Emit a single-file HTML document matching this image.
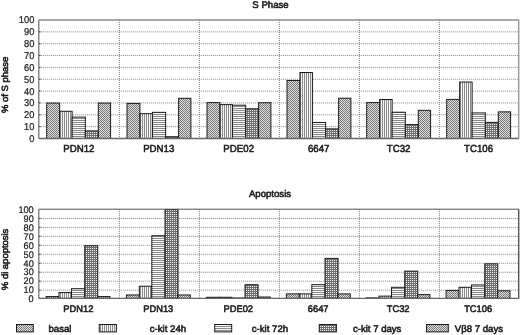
<!DOCTYPE html>
<html><head><meta charset="utf-8"><style>
html,body{margin:0;padding:0;background:#fff;}
svg{display:block;filter:grayscale(1);}
text{font-family:"Liberation Sans",sans-serif;fill:#1a1a1a;text-rendering:geometricPrecision;}
</style></head><body>
<svg width="520" height="335" viewBox="0 0 520 335">
<defs>
<pattern id="pA" width="2" height="2" patternUnits="userSpaceOnUse"><rect width="2" height="2" fill="#e2e2e2"/><rect width="1" height="1" fill="#767676"/><rect x="1" y="1" width="1" height="1" fill="#767676"/></pattern>
<pattern id="pV" width="2" height="2" patternUnits="userSpaceOnUse"><rect width="2" height="2" fill="#f8f8f8"/><rect width="1" height="2" fill="#8a8a8a"/></pattern>
<pattern id="pH" width="2" height="2" patternUnits="userSpaceOnUse"><rect width="2" height="2" fill="#f8f8f8"/><rect width="2" height="1" fill="#8a8a8a"/></pattern>
<pattern id="pG" width="2" height="2" patternUnits="userSpaceOnUse"><rect width="2" height="2" fill="#6e6e6e"/><rect width="1" height="1" fill="#f4f4f4"/></pattern>
</defs>
<rect width="520" height="335" fill="#fff"/>

<line x1="38.8" y1="126.65" x2="519.0" y2="126.65" stroke="#858585" stroke-width="1" stroke-dasharray="1 1"/>
<line x1="38.8" y1="114.80" x2="519.0" y2="114.80" stroke="#858585" stroke-width="1" stroke-dasharray="1 1"/>
<line x1="38.8" y1="102.95" x2="519.0" y2="102.95" stroke="#858585" stroke-width="1" stroke-dasharray="1 1"/>
<line x1="38.8" y1="91.10" x2="519.0" y2="91.10" stroke="#858585" stroke-width="1" stroke-dasharray="1 1"/>
<line x1="38.8" y1="79.25" x2="519.0" y2="79.25" stroke="#858585" stroke-width="1" stroke-dasharray="1 1"/>
<line x1="38.8" y1="67.40" x2="519.0" y2="67.40" stroke="#858585" stroke-width="1" stroke-dasharray="1 1"/>
<line x1="38.8" y1="55.55" x2="519.0" y2="55.55" stroke="#858585" stroke-width="1" stroke-dasharray="1 1"/>
<line x1="38.8" y1="43.70" x2="519.0" y2="43.70" stroke="#858585" stroke-width="1" stroke-dasharray="1 1"/>
<line x1="38.8" y1="31.85" x2="519.0" y2="31.85" stroke="#858585" stroke-width="1" stroke-dasharray="1 1"/>
<line x1="119.4" y1="20.0" x2="119.4" y2="138.5" stroke="#7a7a7a" stroke-width="1" stroke-dasharray="1 1"/>
<line x1="199.4" y1="20.0" x2="199.4" y2="138.5" stroke="#7a7a7a" stroke-width="1" stroke-dasharray="1 1"/>
<line x1="279.4" y1="20.0" x2="279.4" y2="138.5" stroke="#7a7a7a" stroke-width="1" stroke-dasharray="1 1"/>
<line x1="359.4" y1="20.0" x2="359.4" y2="138.5" stroke="#7a7a7a" stroke-width="1" stroke-dasharray="1 1"/>
<line x1="439.4" y1="20.0" x2="439.4" y2="138.5" stroke="#7a7a7a" stroke-width="1" stroke-dasharray="1 1"/>
<rect x="46.70" y="103.07" width="12.93" height="35.43" fill="url(#pA)" stroke="#1a1a1a" stroke-width="1"/>
<rect x="59.63" y="111.28" width="12.49" height="27.22" fill="url(#pV)" stroke="#1a1a1a" stroke-width="1"/>
<rect x="72.12" y="117.10" width="13.21" height="21.40" fill="url(#pH)" stroke="#1a1a1a" stroke-width="1"/>
<rect x="85.33" y="130.90" width="12.99" height="7.60" fill="url(#pG)" stroke="#1a1a1a" stroke-width="1"/>
<rect x="98.32" y="103.07" width="12.26" height="35.43" fill="url(#pA)" stroke="#1a1a1a" stroke-width="1"/>
<rect x="127.00" y="103.43" width="12.93" height="35.07" fill="url(#pA)" stroke="#1a1a1a" stroke-width="1"/>
<rect x="139.93" y="113.66" width="12.49" height="24.84" fill="url(#pV)" stroke="#1a1a1a" stroke-width="1"/>
<rect x="152.42" y="112.35" width="13.21" height="26.15" fill="url(#pH)" stroke="#1a1a1a" stroke-width="1"/>
<rect x="165.63" y="136.72" width="12.99" height="1.78" fill="url(#pG)" stroke="#1a1a1a" stroke-width="1"/>
<rect x="178.62" y="98.32" width="12.26" height="40.18" fill="url(#pA)" stroke="#1a1a1a" stroke-width="1"/>
<rect x="207.00" y="102.60" width="12.93" height="35.90" fill="url(#pA)" stroke="#1a1a1a" stroke-width="1"/>
<rect x="219.93" y="104.62" width="12.49" height="33.88" fill="url(#pV)" stroke="#1a1a1a" stroke-width="1"/>
<rect x="232.42" y="105.21" width="13.21" height="33.29" fill="url(#pH)" stroke="#1a1a1a" stroke-width="1"/>
<rect x="245.63" y="108.78" width="12.99" height="29.72" fill="url(#pG)" stroke="#1a1a1a" stroke-width="1"/>
<rect x="258.62" y="102.72" width="12.26" height="35.78" fill="url(#pA)" stroke="#1a1a1a" stroke-width="1"/>
<rect x="287.00" y="80.48" width="12.93" height="58.02" fill="url(#pA)" stroke="#1a1a1a" stroke-width="1"/>
<rect x="299.93" y="72.52" width="12.49" height="65.98" fill="url(#pV)" stroke="#1a1a1a" stroke-width="1"/>
<rect x="312.42" y="122.45" width="13.21" height="16.05" fill="url(#pH)" stroke="#1a1a1a" stroke-width="1"/>
<rect x="325.63" y="128.87" width="12.99" height="9.63" fill="url(#pG)" stroke="#1a1a1a" stroke-width="1"/>
<rect x="338.62" y="98.20" width="12.26" height="40.30" fill="url(#pA)" stroke="#1a1a1a" stroke-width="1"/>
<rect x="366.70" y="102.60" width="12.93" height="35.90" fill="url(#pA)" stroke="#1a1a1a" stroke-width="1"/>
<rect x="379.63" y="99.51" width="12.49" height="38.99" fill="url(#pV)" stroke="#1a1a1a" stroke-width="1"/>
<rect x="392.12" y="112.23" width="13.21" height="26.27" fill="url(#pH)" stroke="#1a1a1a" stroke-width="1"/>
<rect x="405.33" y="124.59" width="12.99" height="13.91" fill="url(#pG)" stroke="#1a1a1a" stroke-width="1"/>
<rect x="418.32" y="110.33" width="12.26" height="28.17" fill="url(#pA)" stroke="#1a1a1a" stroke-width="1"/>
<rect x="446.70" y="99.39" width="12.93" height="39.11" fill="url(#pA)" stroke="#1a1a1a" stroke-width="1"/>
<rect x="459.63" y="82.03" width="12.49" height="56.47" fill="url(#pV)" stroke="#1a1a1a" stroke-width="1"/>
<rect x="472.12" y="112.94" width="13.21" height="25.56" fill="url(#pH)" stroke="#1a1a1a" stroke-width="1"/>
<rect x="485.33" y="122.34" width="12.99" height="16.16" fill="url(#pG)" stroke="#1a1a1a" stroke-width="1"/>
<rect x="498.32" y="111.87" width="12.26" height="26.63" fill="url(#pA)" stroke="#1a1a1a" stroke-width="1"/>
<line x1="38.8" y1="20.0" x2="519.0" y2="20.0" stroke="#555" stroke-width="1.0"/>
<line x1="38.8" y1="20.0" x2="38.8" y2="138.5" stroke="#6a6a6a" stroke-width="1.2"/>
<line x1="39.199999999999996" y1="126.65" x2="40.599999999999994" y2="126.65" stroke="#333" stroke-width="1"/>
<line x1="39.199999999999996" y1="114.80" x2="40.599999999999994" y2="114.80" stroke="#333" stroke-width="1"/>
<line x1="39.199999999999996" y1="102.95" x2="40.599999999999994" y2="102.95" stroke="#333" stroke-width="1"/>
<line x1="39.199999999999996" y1="91.10" x2="40.599999999999994" y2="91.10" stroke="#333" stroke-width="1"/>
<line x1="39.199999999999996" y1="79.25" x2="40.599999999999994" y2="79.25" stroke="#333" stroke-width="1"/>
<line x1="39.199999999999996" y1="67.40" x2="40.599999999999994" y2="67.40" stroke="#333" stroke-width="1"/>
<line x1="39.199999999999996" y1="55.55" x2="40.599999999999994" y2="55.55" stroke="#333" stroke-width="1"/>
<line x1="39.199999999999996" y1="43.70" x2="40.599999999999994" y2="43.70" stroke="#333" stroke-width="1"/>
<line x1="39.199999999999996" y1="31.85" x2="40.599999999999994" y2="31.85" stroke="#333" stroke-width="1"/>
<line x1="38.8" y1="138.5" x2="519.0" y2="138.5" stroke="#666" stroke-width="1.3"/>
<line x1="518.7" y1="20.0" x2="518.7" y2="138.5" stroke="#9a9a9a" stroke-width="1.4"/>
<text transform="translate(34.30 141.90) scale(0.94 1)" font-size="9.9" text-anchor="end" stroke="#1a1a1a" stroke-width="0.22">0</text>
<text transform="translate(34.30 130.05) scale(0.94 1)" font-size="9.9" text-anchor="end" stroke="#1a1a1a" stroke-width="0.22">10</text>
<text transform="translate(34.30 118.20) scale(0.94 1)" font-size="9.9" text-anchor="end" stroke="#1a1a1a" stroke-width="0.22">20</text>
<text transform="translate(34.30 106.35) scale(0.94 1)" font-size="9.9" text-anchor="end" stroke="#1a1a1a" stroke-width="0.22">30</text>
<text transform="translate(34.30 94.50) scale(0.94 1)" font-size="9.9" text-anchor="end" stroke="#1a1a1a" stroke-width="0.22">40</text>
<text transform="translate(34.30 82.65) scale(0.94 1)" font-size="9.9" text-anchor="end" stroke="#1a1a1a" stroke-width="0.22">50</text>
<text transform="translate(34.30 70.80) scale(0.94 1)" font-size="9.9" text-anchor="end" stroke="#1a1a1a" stroke-width="0.22">60</text>
<text transform="translate(34.30 58.95) scale(0.94 1)" font-size="9.9" text-anchor="end" stroke="#1a1a1a" stroke-width="0.22">70</text>
<text transform="translate(34.30 47.10) scale(0.94 1)" font-size="9.9" text-anchor="end" stroke="#1a1a1a" stroke-width="0.22">80</text>
<text transform="translate(34.30 35.25) scale(0.94 1)" font-size="9.9" text-anchor="end" stroke="#1a1a1a" stroke-width="0.22">90</text>
<text transform="translate(34.30 23.40) scale(0.94 1)" font-size="9.9" text-anchor="end" stroke="#1a1a1a" stroke-width="0.22">100</text>
<text transform="translate(78.80 151.70) scale(0.95 1)" font-size="10.2" text-anchor="middle" stroke="#1a1a1a" stroke-width="0.55">PDN12</text>
<text transform="translate(158.75 151.70) scale(0.95 1)" font-size="10.2" text-anchor="middle" stroke="#1a1a1a" stroke-width="0.55">PDN13</text>
<text transform="translate(238.70 151.70) scale(0.95 1)" font-size="10.2" text-anchor="middle" stroke="#1a1a1a" stroke-width="0.55">PDE02</text>
<text transform="translate(318.65 151.70) scale(0.95 1)" font-size="10.2" text-anchor="middle" stroke="#1a1a1a" stroke-width="0.55">6647</text>
<text transform="translate(398.60 151.70) scale(0.95 1)" font-size="10.2" text-anchor="middle" stroke="#1a1a1a" stroke-width="0.55">TC32</text>
<text transform="translate(478.55 151.70) scale(0.95 1)" font-size="10.2" text-anchor="middle" stroke="#1a1a1a" stroke-width="0.55">TC106</text>
<text x="270.5" y="7.8" font-size="9.6" text-anchor="middle" stroke="#1a1a1a" stroke-width="0.55">S Phase</text>
<text transform="translate(8.1,84.9) rotate(-90) scale(1.04 1)" font-size="9.1" text-anchor="middle" stroke="#1a1a1a" stroke-width="0.55">% of S phase</text>
<line x1="38.8" y1="290.14" x2="519.0" y2="290.14" stroke="#858585" stroke-width="1" stroke-dasharray="1 1"/>
<line x1="38.8" y1="281.18" x2="519.0" y2="281.18" stroke="#858585" stroke-width="1" stroke-dasharray="1 1"/>
<line x1="38.8" y1="272.22" x2="519.0" y2="272.22" stroke="#858585" stroke-width="1" stroke-dasharray="1 1"/>
<line x1="38.8" y1="263.26" x2="519.0" y2="263.26" stroke="#858585" stroke-width="1" stroke-dasharray="1 1"/>
<line x1="38.8" y1="254.30" x2="519.0" y2="254.30" stroke="#858585" stroke-width="1" stroke-dasharray="1 1"/>
<line x1="38.8" y1="245.34" x2="519.0" y2="245.34" stroke="#858585" stroke-width="1" stroke-dasharray="1 1"/>
<line x1="38.8" y1="236.38" x2="519.0" y2="236.38" stroke="#858585" stroke-width="1" stroke-dasharray="1 1"/>
<line x1="38.8" y1="227.42" x2="519.0" y2="227.42" stroke="#858585" stroke-width="1" stroke-dasharray="1 1"/>
<line x1="38.8" y1="218.46" x2="519.0" y2="218.46" stroke="#858585" stroke-width="1" stroke-dasharray="1 1"/>
<line x1="119.4" y1="209.2" x2="119.4" y2="298.4" stroke="#7a7a7a" stroke-width="1" stroke-dasharray="1 1"/>
<line x1="199.4" y1="209.2" x2="199.4" y2="298.4" stroke="#7a7a7a" stroke-width="1" stroke-dasharray="1 1"/>
<line x1="279.4" y1="209.2" x2="279.4" y2="298.4" stroke="#7a7a7a" stroke-width="1" stroke-dasharray="1 1"/>
<line x1="359.4" y1="209.2" x2="359.4" y2="298.4" stroke="#7a7a7a" stroke-width="1" stroke-dasharray="1 1"/>
<line x1="439.4" y1="209.2" x2="439.4" y2="298.4" stroke="#7a7a7a" stroke-width="1" stroke-dasharray="1 1"/>
<rect x="46.10" y="296.57" width="12.93" height="1.83" fill="url(#pA)" stroke="#1a1a1a" stroke-width="1"/>
<rect x="59.03" y="292.56" width="12.49" height="5.84" fill="url(#pV)" stroke="#1a1a1a" stroke-width="1"/>
<rect x="71.52" y="288.72" width="13.21" height="9.68" fill="url(#pH)" stroke="#1a1a1a" stroke-width="1"/>
<rect x="84.73" y="245.73" width="12.99" height="52.67" fill="url(#pG)" stroke="#1a1a1a" stroke-width="1"/>
<rect x="97.72" y="296.57" width="12.26" height="1.83" fill="url(#pA)" stroke="#1a1a1a" stroke-width="1"/>
<rect x="126.40" y="294.96" width="12.93" height="3.44" fill="url(#pA)" stroke="#1a1a1a" stroke-width="1"/>
<rect x="139.33" y="286.22" width="12.49" height="12.18" fill="url(#pV)" stroke="#1a1a1a" stroke-width="1"/>
<rect x="151.82" y="235.74" width="13.21" height="62.66" fill="url(#pH)" stroke="#1a1a1a" stroke-width="1"/>
<rect x="165.03" y="209.60" width="12.99" height="88.80" fill="url(#pG)" stroke="#1a1a1a" stroke-width="1"/>
<rect x="178.02" y="294.96" width="12.26" height="3.44" fill="url(#pA)" stroke="#1a1a1a" stroke-width="1"/>
<rect x="206.40" y="297.28" width="12.93" height="1.12" fill="url(#pA)" stroke="#1a1a1a" stroke-width="1"/>
<rect x="219.33" y="297.28" width="12.49" height="1.12" fill="url(#pV)" stroke="#1a1a1a" stroke-width="1"/>
<rect x="231.82" y="298.00" width="13.21" height="0.40" fill="url(#pH)" stroke="#1a1a1a" stroke-width="1"/>
<rect x="245.03" y="284.71" width="12.99" height="13.69" fill="url(#pG)" stroke="#1a1a1a" stroke-width="1"/>
<rect x="258.02" y="297.02" width="12.26" height="1.38" fill="url(#pA)" stroke="#1a1a1a" stroke-width="1"/>
<rect x="286.40" y="293.89" width="12.93" height="4.51" fill="url(#pA)" stroke="#1a1a1a" stroke-width="1"/>
<rect x="299.33" y="293.89" width="12.49" height="4.51" fill="url(#pV)" stroke="#1a1a1a" stroke-width="1"/>
<rect x="311.82" y="284.71" width="13.21" height="13.69" fill="url(#pH)" stroke="#1a1a1a" stroke-width="1"/>
<rect x="325.03" y="258.39" width="12.99" height="40.01" fill="url(#pG)" stroke="#1a1a1a" stroke-width="1"/>
<rect x="338.02" y="293.89" width="12.26" height="4.51" fill="url(#pA)" stroke="#1a1a1a" stroke-width="1"/>
<rect x="366.10" y="297.91" width="12.93" height="0.49" fill="url(#pA)" stroke="#1a1a1a" stroke-width="1"/>
<rect x="379.03" y="296.12" width="12.49" height="2.28" fill="url(#pV)" stroke="#1a1a1a" stroke-width="1"/>
<rect x="391.52" y="287.29" width="13.21" height="11.11" fill="url(#pH)" stroke="#1a1a1a" stroke-width="1"/>
<rect x="404.73" y="271.15" width="12.99" height="27.25" fill="url(#pG)" stroke="#1a1a1a" stroke-width="1"/>
<rect x="417.72" y="294.61" width="12.26" height="3.79" fill="url(#pA)" stroke="#1a1a1a" stroke-width="1"/>
<rect x="446.10" y="290.42" width="12.93" height="7.98" fill="url(#pA)" stroke="#1a1a1a" stroke-width="1"/>
<rect x="459.03" y="287.29" width="12.49" height="11.11" fill="url(#pV)" stroke="#1a1a1a" stroke-width="1"/>
<rect x="471.52" y="284.97" width="13.21" height="13.43" fill="url(#pH)" stroke="#1a1a1a" stroke-width="1"/>
<rect x="484.73" y="263.83" width="12.99" height="34.57" fill="url(#pG)" stroke="#1a1a1a" stroke-width="1"/>
<rect x="497.72" y="290.77" width="12.26" height="7.63" fill="url(#pA)" stroke="#1a1a1a" stroke-width="1"/>
<line x1="38.8" y1="209.2" x2="519.0" y2="209.2" stroke="#555" stroke-width="1.0"/>
<line x1="38.8" y1="209.2" x2="38.8" y2="298.4" stroke="#6a6a6a" stroke-width="1.2"/>
<line x1="39.199999999999996" y1="290.14" x2="40.599999999999994" y2="290.14" stroke="#333" stroke-width="1"/>
<line x1="39.199999999999996" y1="281.18" x2="40.599999999999994" y2="281.18" stroke="#333" stroke-width="1"/>
<line x1="39.199999999999996" y1="272.22" x2="40.599999999999994" y2="272.22" stroke="#333" stroke-width="1"/>
<line x1="39.199999999999996" y1="263.26" x2="40.599999999999994" y2="263.26" stroke="#333" stroke-width="1"/>
<line x1="39.199999999999996" y1="254.30" x2="40.599999999999994" y2="254.30" stroke="#333" stroke-width="1"/>
<line x1="39.199999999999996" y1="245.34" x2="40.599999999999994" y2="245.34" stroke="#333" stroke-width="1"/>
<line x1="39.199999999999996" y1="236.38" x2="40.599999999999994" y2="236.38" stroke="#333" stroke-width="1"/>
<line x1="39.199999999999996" y1="227.42" x2="40.599999999999994" y2="227.42" stroke="#333" stroke-width="1"/>
<line x1="39.199999999999996" y1="218.46" x2="40.599999999999994" y2="218.46" stroke="#333" stroke-width="1"/>
<line x1="38.8" y1="298.4" x2="519.0" y2="298.4" stroke="#666" stroke-width="1.3"/>
<line x1="518.7" y1="209.2" x2="518.7" y2="298.4" stroke="#555" stroke-width="1.4"/>
<text transform="translate(33.70 302.20) scale(0.95 1)" font-size="9.6" text-anchor="end" stroke="#1a1a1a" stroke-width="0.22">0</text>
<text transform="translate(33.70 293.28) scale(0.95 1)" font-size="9.6" text-anchor="end" stroke="#1a1a1a" stroke-width="0.22">10</text>
<text transform="translate(33.70 284.36) scale(0.95 1)" font-size="9.6" text-anchor="end" stroke="#1a1a1a" stroke-width="0.22">20</text>
<text transform="translate(33.70 275.44) scale(0.95 1)" font-size="9.6" text-anchor="end" stroke="#1a1a1a" stroke-width="0.22">30</text>
<text transform="translate(33.70 266.52) scale(0.95 1)" font-size="9.6" text-anchor="end" stroke="#1a1a1a" stroke-width="0.22">40</text>
<text transform="translate(33.70 257.60) scale(0.95 1)" font-size="9.6" text-anchor="end" stroke="#1a1a1a" stroke-width="0.22">50</text>
<text transform="translate(33.70 248.68) scale(0.95 1)" font-size="9.6" text-anchor="end" stroke="#1a1a1a" stroke-width="0.22">60</text>
<text transform="translate(33.70 239.76) scale(0.95 1)" font-size="9.6" text-anchor="end" stroke="#1a1a1a" stroke-width="0.22">70</text>
<text transform="translate(33.70 230.84) scale(0.95 1)" font-size="9.6" text-anchor="end" stroke="#1a1a1a" stroke-width="0.22">80</text>
<text transform="translate(33.70 221.92) scale(0.95 1)" font-size="9.6" text-anchor="end" stroke="#1a1a1a" stroke-width="0.22">90</text>
<text transform="translate(33.70 213.00) scale(0.95 1)" font-size="9.6" text-anchor="end" stroke="#1a1a1a" stroke-width="0.22">100</text>
<text transform="translate(78.35 311.70) scale(0.97 1)" font-size="9.6" text-anchor="middle" stroke="#1a1a1a" stroke-width="0.55">PDN12</text>
<text transform="translate(158.30 311.70) scale(0.97 1)" font-size="9.6" text-anchor="middle" stroke="#1a1a1a" stroke-width="0.55">PDN13</text>
<text transform="translate(238.25 311.70) scale(0.97 1)" font-size="9.6" text-anchor="middle" stroke="#1a1a1a" stroke-width="0.55">PDE02</text>
<text transform="translate(318.20 311.70) scale(0.97 1)" font-size="9.6" text-anchor="middle" stroke="#1a1a1a" stroke-width="0.55">6647</text>
<text transform="translate(398.15 311.70) scale(0.97 1)" font-size="9.6" text-anchor="middle" stroke="#1a1a1a" stroke-width="0.55">TC32</text>
<text transform="translate(478.10 311.70) scale(0.97 1)" font-size="9.6" text-anchor="middle" stroke="#1a1a1a" stroke-width="0.55">TC106</text>
<text x="270" y="196.5" font-size="9.6" text-anchor="middle" stroke="#1a1a1a" stroke-width="0.55">Apoptosis</text>
<text transform="translate(7.9,259.4) rotate(-90) scale(1.04 1)" font-size="9.1" text-anchor="middle" stroke="#1a1a1a" stroke-width="0.55">% di apoptosis</text>
<rect x="16.5" y="324.5" width="16.8" height="7.4" fill="url(#pA)" stroke="#1a1a1a" stroke-width="1"/>
<text x="48.5" y="331.5" font-size="9.6" stroke="#1a1a1a" stroke-width="0.55">basal</text>
<rect x="99.25" y="324.5" width="17.15" height="7.4" fill="url(#pV)" stroke="#1a1a1a" stroke-width="1"/>
<text x="149.8" y="331.5" font-size="9.6" stroke="#1a1a1a" stroke-width="0.55">c-kit 24h</text>
<rect x="214.7" y="324.5" width="17" height="7.4" fill="url(#pH)" stroke="#1a1a1a" stroke-width="1"/>
<text x="251.8" y="331.5" font-size="9.6" stroke="#1a1a1a" stroke-width="0.55">c-kit 72h</text>
<rect x="319.25" y="324.5" width="17.15" height="7.4" fill="url(#pG)" stroke="#1a1a1a" stroke-width="1"/>
<text x="352.9" y="331.5" font-size="9.6" stroke="#1a1a1a" stroke-width="0.55">c-kit 7 days</text>
<rect x="426.5" y="324.5" width="21.8" height="7.4" fill="url(#pA)" stroke="#1a1a1a" stroke-width="1"/>
<text x="454.8" y="331.5" font-size="9.6" stroke="#1a1a1a" stroke-width="0.55">Vβ8 7 days</text>
</svg></body></html>
